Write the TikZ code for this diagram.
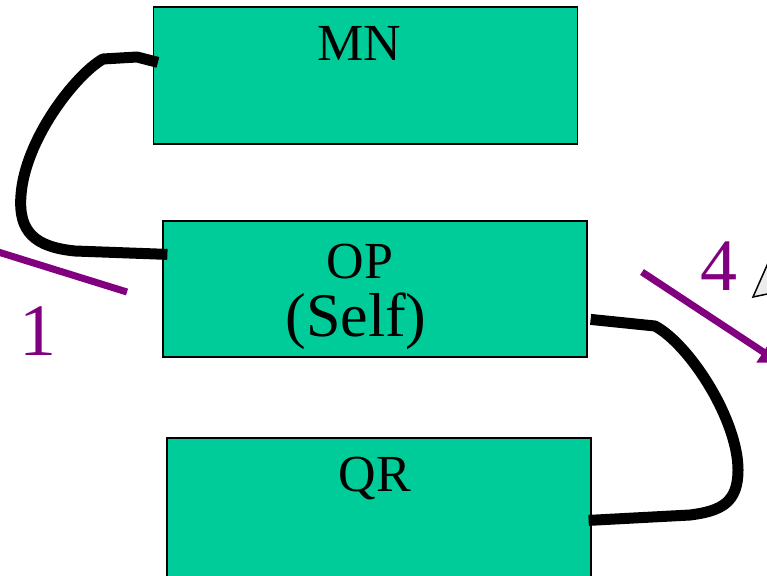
\documentclass[tikz,border=0pt]{standalone}
\usepackage{fontspec}
\setmainfont{Liberation Serif}
\usetikzlibrary{calc,arrows.meta}
\definecolor{boxgreen}{HTML}{00CC99}
\definecolor{markpurple}{HTML}{800080}
\tikzset{
  unitbox/.style={draw=black, line width=1.2pt, fill=boxgreen, rectangle,
    minimum width=424pt, inner sep=0pt},
  boxtext/.style={anchor=base, inner sep=0pt, font=\fontsize{52}{52}\selectfont},
  selftext/.style={anchor=base, inner sep=0pt, font=\fontsize{62}{62}\selectfont},
  numtext/.style={anchor=base, inner sep=0pt, text=markpurple,
    font=\fontsize{74}{74}\selectfont},
  link/.style={draw=black, line width=11pt, line join=round, line cap=butt},
  stroke/.style={draw=markpurple, line width=7pt, line cap=butt},
}
\begin{document}
\begin{tikzpicture}[x=1pt,y=-1pt]
\useasboundingbox (0,0) rectangle (767,575);
\clip (0,0) rectangle (767,575);

% the three units
\node[unitbox, minimum height=137pt] (mn) at (365.5,75.5) {};
\node[unitbox, minimum height=136pt] (op) at (375,289) {};
\node[unitbox, minimum height=139pt] (qr) at (379,507.5) {};

\node[boxtext] (mnlabel) at (359,61) {MN};
\node[boxtext] (oplabel) at (360,278) {OP};
\node[selftext] (selflabel) at (356,336) {(Self)};
\node[boxtext] (qrlabel) at (375,491) {QR};

% black links between the units
\draw[link] ($(mn.north west)+(5,56)$) -- (137,57) -- (103,59)
  .. controls (75,75) and (25,140) .. (21,195)
  .. controls (18,232) and (35,247) .. (75,251)
  -- ($(op.north west)+(5,34)$);
\draw[link] ($(op.north east)+(3,99)$) -- (655,326)
  .. controls (690,345) and (738,420) .. (738,470)
  .. controls (738,502) and (722,511) .. (690,515)
  -- ($(qr.north east)+(-3,83)$);

% purple markers
\coordinate (leftA) at (-5,251);
\coordinate (leftB) at (127,292);
\draw[stroke] (leftA) -- (leftB);
\node[numtext] (one) at (38,355) {1};

\coordinate (arrA) at (642,272);
\coordinate (arrB) at (780,363);
\draw[stroke, -{Triangle[length=20pt,width=24pt]}] (arrA) -- (arrB);
\node[numtext] (four) at (719,290) {4};

% pointer of a callout at the right edge
\draw[line width=1.5pt, fill=gray!15, line join=miter]
  (753,297) -- (772,254) -- (772,293) -- cycle;
\end{tikzpicture}
\end{document}
